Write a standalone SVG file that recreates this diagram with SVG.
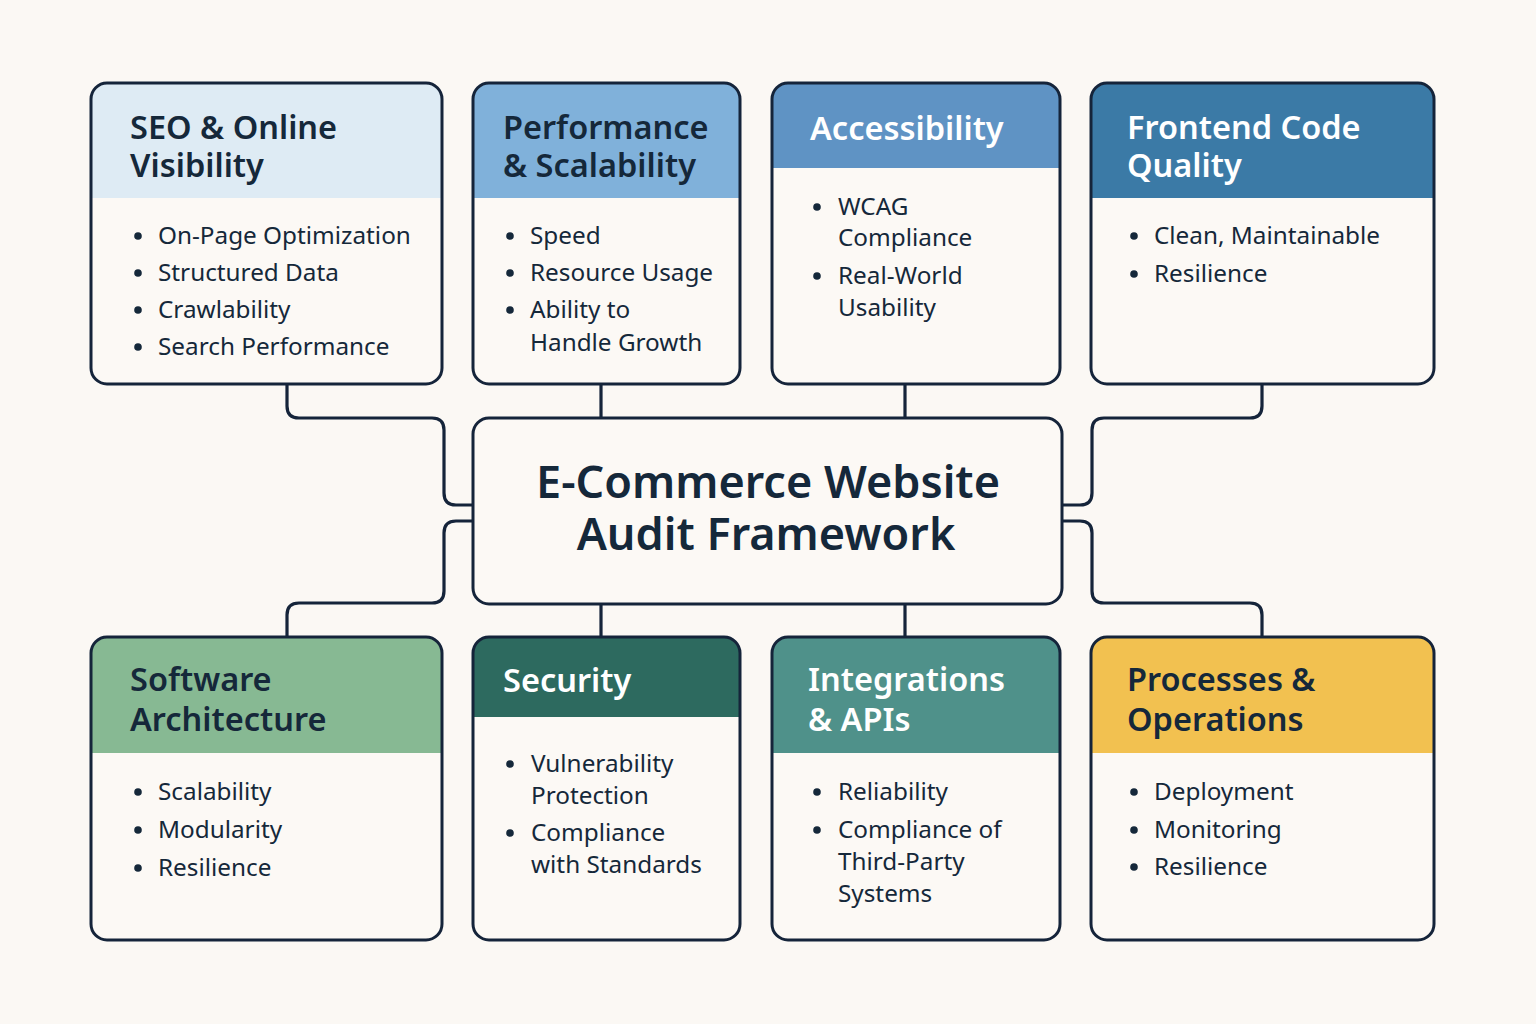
<svg xmlns="http://www.w3.org/2000/svg" width="1536" height="1024" viewBox="0 0 1536 1024">
<style>
.body{fill:#fcf9f5}
.outline{fill:none;stroke:#15243a;stroke-width:3}
.conn{fill:none;stroke:#15243a;stroke-width:3.2;stroke-linecap:round}
.ttl{font-family:"Noto Sans","Liberation Sans",sans-serif;font-weight:600;font-size:32.5px;fill:#15283a}
.ttlw{font-family:"Noto Sans","Liberation Sans",sans-serif;font-weight:600;font-size:32.5px;fill:#ffffff}
.item{font-family:"Noto Sans","Liberation Sans",sans-serif;font-weight:400;font-size:24.3px;fill:#15283a}
.center{font-family:"Noto Sans","Liberation Sans",sans-serif;font-weight:600;font-size:45px;fill:#15283a;text-anchor:middle}
.dot{fill:#15283a}
</style>
<rect x="0" y="0" width="1536" height="1024" fill="#fbf8f4"/>

<g id="connectors">
<path class="conn" d="M287,384 V406 Q287,418 299,418 H432 Q444,418 444,430 V493 Q444,505 456,505 H473"/>
<path class="conn" d="M473,521 H456 Q444,521 444,533 V591 Q444,603 432,603 H299 Q287,603 287,615 V637"/>
<path class="conn" d="M1262,384 V406 Q1262,418 1250,418 H1104 Q1092,418 1092,430 V493 Q1092,505 1080,505 H1062"/>
<path class="conn" d="M1062,521 H1080 Q1092,521 1092,533 V591 Q1092,603 1104,603 H1250 Q1262,603 1262,615 V637"/>
<path class="conn" d="M601,384 V418"/>
<path class="conn" d="M905,384 V418"/>
<path class="conn" d="M601,604 V637"/>
<path class="conn" d="M905,604 V637"/>
</g>

<g id="center">
<rect class="body" x="473" y="418" width="589" height="186" rx="16"/>
<rect class="outline" x="473" y="418" width="589" height="186" rx="16"/>
<text class="center" x="768" y="498">E-Commerce Website</text>
<text class="center" x="766" y="550">Audit Framework</text>
</g>

<g id="seo">
<rect class="body" x="91" y="83" width="351" height="301" rx="16"/>
<path d="M91,198 V99 A16,16 0 0 1 107,83 H426 A16,16 0 0 1 442,99 V198 Z" fill="#deebf4"/>
<rect class="outline" x="91" y="83" width="351" height="301" rx="16"/>
<text class="ttl" x="130" y="139">SEO &amp; Online</text>
<text class="ttl" x="130" y="177">Visibility</text>
<circle class="dot" cx="138" cy="236" r="3.8"/><text class="item" x="158" y="244">On-Page Optimization</text>
<circle class="dot" cx="138" cy="273" r="3.8"/><text class="item" x="158" y="281">Structured Data</text>
<circle class="dot" cx="138" cy="310" r="3.8"/><text class="item" x="158" y="318">Crawlability</text>
<circle class="dot" cx="138" cy="347" r="3.8"/><text class="item" x="158" y="355">Search Performance</text>
</g>

<g id="performance">
<rect class="body" x="473" y="83" width="267" height="301" rx="16"/>
<path d="M473,198 V99 A16,16 0 0 1 489,83 H724 A16,16 0 0 1 740,99 V198 Z" fill="#80b1da"/>
<rect class="outline" x="473" y="83" width="267" height="301" rx="16"/>
<text class="ttl" x="503" y="139">Performance</text>
<text class="ttl" x="503" y="177">&amp; Scalability</text>
<circle class="dot" cx="510" cy="236" r="3.8"/><text class="item" x="530" y="244">Speed</text>
<circle class="dot" cx="510" cy="273" r="3.8"/><text class="item" x="530" y="281">Resource Usage</text>
<circle class="dot" cx="510" cy="310" r="3.8"/><text class="item" x="530" y="318">Ability to</text>
<text class="item" x="530" y="351">Handle Growth</text>
</g>

<g id="accessibility">
<rect class="body" x="772" y="83" width="288" height="301" rx="16"/>
<path d="M772,168 V99 A16,16 0 0 1 788,83 H1044 A16,16 0 0 1 1060,99 V168 Z" fill="#5f93c4"/>
<rect class="outline" x="772" y="83" width="288" height="301" rx="16"/>
<text class="ttlw" x="810" y="140">Accessibility</text>
<circle class="dot" cx="817" cy="207" r="3.8"/><text class="item" x="838" y="215">WCAG</text>
<text class="item" x="838" y="246">Compliance</text>
<circle class="dot" cx="817" cy="276" r="3.8"/><text class="item" x="838" y="284">Real-World</text>
<text class="item" x="838" y="316">Usability</text>
</g>

<g id="frontend">
<rect class="body" x="1091" y="83" width="343" height="301" rx="16"/>
<path d="M1091,198 V99 A16,16 0 0 1 1107,83 H1418 A16,16 0 0 1 1434,99 V198 Z" fill="#3b7aa6"/>
<rect class="outline" x="1091" y="83" width="343" height="301" rx="16"/>
<text class="ttlw" x="1127" y="139">Frontend Code</text>
<text class="ttlw" x="1127" y="177">Quality</text>
<circle class="dot" cx="1134" cy="236" r="3.8"/><text class="item" x="1154" y="244">Clean, Maintainable</text>
<circle class="dot" cx="1134" cy="274" r="3.8"/><text class="item" x="1154" y="282">Resilience</text>
</g>

<g id="architecture">
<rect class="body" x="91" y="637" width="351" height="303" rx="16"/>
<path d="M91,753 V653 A16,16 0 0 1 107,637 H426 A16,16 0 0 1 442,653 V753 Z" fill="#87b993"/>
<rect class="outline" x="91" y="637" width="351" height="303" rx="16"/>
<text class="ttl" x="130" y="691">Software</text>
<text class="ttl" x="130" y="731">Architecture</text>
<circle class="dot" cx="138" cy="792" r="3.8"/><text class="item" x="158" y="800">Scalability</text>
<circle class="dot" cx="138" cy="830" r="3.8"/><text class="item" x="158" y="838">Modularity</text>
<circle class="dot" cx="138" cy="868" r="3.8"/><text class="item" x="158" y="876">Resilience</text>
</g>

<g id="security">
<rect class="body" x="473" y="637" width="267" height="303" rx="16"/>
<path d="M473,717 V653 A16,16 0 0 1 489,637 H724 A16,16 0 0 1 740,653 V717 Z" fill="#2d6a5f"/>
<rect class="outline" x="473" y="637" width="267" height="303" rx="16"/>
<text class="ttlw" x="503" y="692">Security</text>
<circle class="dot" cx="510" cy="764" r="3.8"/><text class="item" x="531" y="772">Vulnerability</text>
<text class="item" x="531" y="804">Protection</text>
<circle class="dot" cx="510" cy="833" r="3.8"/><text class="item" x="531" y="841">Compliance</text>
<text class="item" x="531" y="873">with Standards</text>
</g>

<g id="integrations">
<rect class="body" x="772" y="637" width="288" height="303" rx="16"/>
<path d="M772,753 V653 A16,16 0 0 1 788,637 H1044 A16,16 0 0 1 1060,653 V753 Z" fill="#4f918a"/>
<rect class="outline" x="772" y="637" width="288" height="303" rx="16"/>
<text class="ttlw" x="808" y="691">Integrations</text>
<text class="ttlw" x="808" y="731">&amp; APIs</text>
<circle class="dot" cx="817" cy="792" r="3.8"/><text class="item" x="838" y="800">Reliability</text>
<circle class="dot" cx="817" cy="830" r="3.8"/><text class="item" x="838" y="838">Compliance of</text>
<text class="item" x="838" y="870">Third-Party</text>
<text class="item" x="838" y="902">Systems</text>
</g>

<g id="processes">
<rect class="body" x="1091" y="637" width="343" height="303" rx="16"/>
<path d="M1091,753 V653 A16,16 0 0 1 1107,637 H1418 A16,16 0 0 1 1434,653 V753 Z" fill="#f2c150"/>
<rect class="outline" x="1091" y="637" width="343" height="303" rx="16"/>
<text class="ttl" x="1127" y="691">Processes &amp;</text>
<text class="ttl" x="1127" y="731">Operations</text>
<circle class="dot" cx="1134" cy="792" r="3.8"/><text class="item" x="1154" y="800">Deployment</text>
<circle class="dot" cx="1134" cy="830" r="3.8"/><text class="item" x="1154" y="838">Monitoring</text>
<circle class="dot" cx="1134" cy="867" r="3.8"/><text class="item" x="1154" y="875">Resilience</text>
</g>
</svg>
